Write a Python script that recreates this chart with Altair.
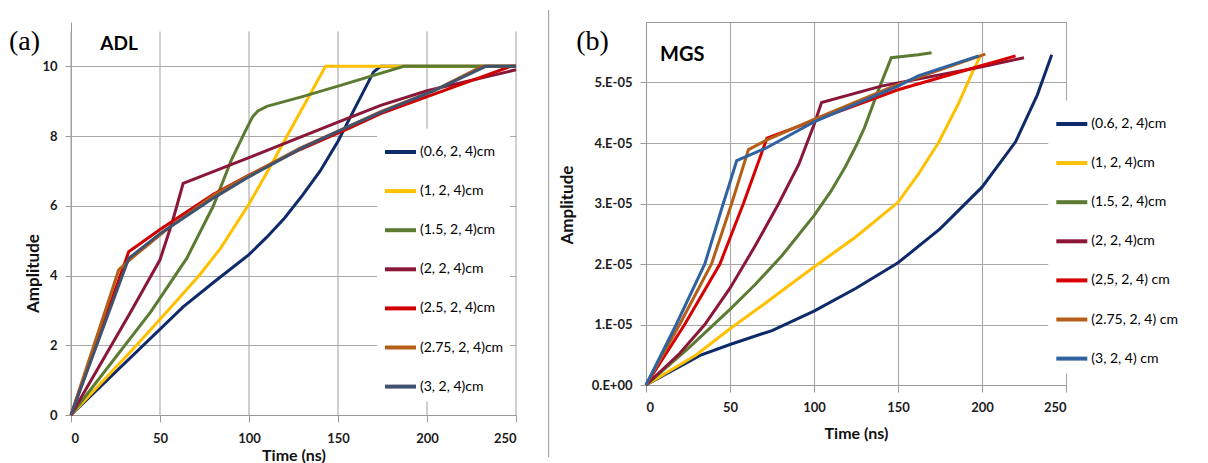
import altair as alt
import pandas as pd

# ---------------- shared axis ticks ----------------
X_TICKS = [0, 50, 100, 150, 200, 250]

# ---------------- (a) ADL ----------------
ADL_LABELS = ["(0.6, 2, 4)cm", "(1, 2, 4)cm", "(1.5, 2, 4)cm", "(2, 2, 4)cm",
              "(2.5, 2, 4)cm", "(2.75, 2, 4)cm", "(3, 2, 4)cm"]
ADL_COLORS = ["#0E2A6A", "#FFC000", "#5C7B32", "#8A1738", "#D00000", "#B55E18", "#3F5270"]
ADL_Y_TICKS = [0, 2, 4, 6, 8, 10]
ADL_GRID_TOP = 11

adl_t_06 = [0, 63, 80, 100, 110, 120, 130, 140, 150, 160, 170, 174, 250]
adl_a_06 = [0, 3.1, 3.8, 4.6, 5.1, 5.65, 6.3, 7.0, 7.85, 8.85, 9.84, 10, 10]
adl_t_1 = [0, 35, 54, 72, 84, 100, 110, 143, 250]
adl_a_1 = [0, 1.9, 2.97, 4.0, 4.78, 6.05, 6.95, 10, 10]
adl_t_15 = [0, 45, 65, 80, 90, 98, 102, 105, 110, 130, 150, 187, 250]
adl_a_15 = [0, 2.97, 4.49, 6.0, 7.3, 8.15, 8.55, 8.72, 8.85, 9.13, 9.43, 10, 10]
adl_t_2 = [0, 34, 50, 57, 63, 100, 150, 174, 200, 250]
adl_a_2 = [0, 3.0, 4.45, 5.55, 6.64, 7.38, 8.4, 8.88, 9.3, 9.9]
adl_t_25 = [0, 32.4, 50, 80, 100, 129, 157, 174, 204, 230, 247, 250]
adl_a_25 = [0, 4.68, 5.32, 6.33, 6.88, 7.62, 8.24, 8.64, 9.2, 9.68, 10, 10]
adl_t_275 = [0, 26.8, 33, 54, 80, 100, 129, 157, 174, 204, 231, 250]
adl_a_275 = [0, 4.16, 4.45, 5.33, 6.3, 6.87, 7.66, 8.3, 8.7, 9.3, 10, 10]
adl_t_3 = [0, 32.4, 50, 80, 100, 129, 157, 174, 204, 233, 250]
adl_a_3 = [0, 4.49, 5.2, 6.22, 6.83, 7.64, 8.3, 8.68, 9.3, 10, 10]

ADL_T = [adl_t_06, adl_t_1, adl_t_15, adl_t_2, adl_t_25, adl_t_275, adl_t_3]
ADL_A = [adl_a_06, adl_a_1, adl_a_15, adl_a_2, adl_a_25, adl_a_275, adl_a_3]

# ---------------- (b) MGS ----------------
MGS_LABELS = ["(0.6, 2, 4)cm", "(1, 2, 4)cm", "(1.5, 2, 4)cm", "(2, 2, 4)cm",
              "(2,5, 2, 4) cm", "(2.75, 2, 4) cm", "(3, 2, 4) cm"]
MGS_COLORS = ["#0E2A6A", "#FFC000", "#5C7B32", "#8A1738", "#D80000", "#B55E18", "#2F62A0"]
MGS_UNIT = 1e-5
MGS_Y_TICKS = [0, 1e-5, 2e-5, 3e-5, 4e-5, 5e-5]

mgs_t_06 = [0, 33, 50, 75, 100, 125, 150, 175, 200, 220, 233, 241.5]
mgs_a_06 = [0, 0.5, 0.67, 0.9, 1.22, 1.6, 2.02, 2.58, 3.27, 4.02, 4.8, 5.46]
mgs_t_1 = [0, 30, 50, 70, 88.7, 100, 125, 150, 162, 174, 186, 194, 199]
mgs_a_1 = [0, 0.5, 0.93, 1.33, 1.72, 1.95, 2.45, 3.02, 3.48, 4.0, 4.65, 5.15, 5.44]
mgs_t_15 = [0, 25, 50, 65, 81, 100, 110, 118.5, 125, 130, 138, 146, 162, 170]
mgs_a_15 = [0, 0.6, 1.25, 1.66, 2.14, 2.8, 3.2, 3.6, 3.95, 4.25, 4.85, 5.41, 5.46, 5.49]
mgs_t_2 = [0, 20, 35, 50, 65, 79, 91, 100, 104.5, 140, 200, 225]
mgs_a_2 = [0, 0.52, 1.0, 1.6, 2.3, 3.0, 3.65, 4.3, 4.67, 4.94, 5.26, 5.41]
mgs_t_25 = [0, 23, 44, 58, 72, 100, 150, 200, 220]
mgs_a_25 = [0, 1.0, 2.0, 3.0, 4.08, 4.37, 4.88, 5.28, 5.44]
mgs_t_275 = [0, 20, 39, 51, 61, 72, 100, 150, 202]
mgs_a_275 = [0, 1.0, 2.0, 3.0, 3.89, 4.05, 4.39, 4.97, 5.47]
mgs_t_3 = [0, 18, 35, 46, 50, 54, 71, 100, 150, 162, 198]
mgs_a_3 = [0, 1.0, 2.0, 3.0, 3.35, 3.71, 3.91, 4.35, 4.94, 5.11, 5.44]

MGS_T = [mgs_t_06, mgs_t_1, mgs_t_15, mgs_t_2, mgs_t_25, mgs_t_275, mgs_t_3]
MGS_A = [mgs_a_06, mgs_a_1, mgs_a_15, mgs_a_2, mgs_a_25, mgs_a_275, mgs_a_3]

# ---------------- annotation text ----------------
ADL_TAG, ADL_NAME = "(a)", "ADL"
MGS_TAG, MGS_NAME = "(b)", "MGS"
X_TITLE = "Time (ns)"
Y_TITLE = "Amplitude"


def build_table(labels, ts, amps, unit=1.0):
    rows = []
    for lab, tt, aa in zip(labels, ts, amps):
        for i, (t, a) in enumerate(zip(tt, aa)):
            rows.append({"series": lab, "t": t, "amp": a * unit, "ord": i})
    return pd.DataFrame(rows)


adl_df = build_table(ADL_LABELS, ADL_T, ADL_A)
mgs_df = build_table(MGS_LABELS, MGS_T, MGS_A, MGS_UNIT)
grid_df = pd.DataFrame({"t": X_TICKS, "amp": [0] * len(X_TICKS), "hi": [ADL_GRID_TOP] * len(X_TICKS)})
one = pd.DataFrame({"k": [0]})

LEG_COMMON = dict(
    orient="none", fillColor="white", padding=6, symbolType="stroke",
    symbolSize=961, symbolStrokeWidth=4, rowPadding=13.1, labelOffset=2,
    labelFont="Lato", labelFontSize=14, labelColor="#000000",
)
GRID_COLOR = "#a8a8a8"

# ---------------- left panel (plot top at page y=20) ----------------
ADL_X_SCALE = alt.Scale(domain=[0, 250], nice=False)
ADL_Y_SCALE = alt.Scale(domain=[0, 11.27], nice=False)
ADL_X_AXIS = alt.Axis(values=X_TICKS, grid=False, title=X_TITLE, titleY=32, titleBaseline="top",
                      labelPadding=10, tickSize=7)
ADL_Y_AXIS = alt.Axis(values=ADL_Y_TICKS, format="d", title=Y_TITLE, titleX=-29, titleY=251,
                      labelPadding=8, tickSize=6)

left_vgrid = alt.Chart(grid_df).mark_rule(color=GRID_COLOR, strokeWidth=1.1).encode(
    x=alt.X("t:Q", scale=ADL_X_SCALE, axis=ADL_X_AXIS),
    y=alt.Y("amp:Q", scale=ADL_Y_SCALE, axis=ADL_Y_AXIS),
    y2="hi:Q",
)
left_lines = alt.Chart(adl_df).mark_line(strokeWidth=3).encode(
    x=alt.X("t:Q", scale=ADL_X_SCALE, axis=ADL_X_AXIS),
    y=alt.Y("amp:Q", scale=ADL_Y_SCALE, axis=ADL_Y_AXIS),
    color=alt.Color("series:N", title=None,
                    scale=alt.Scale(domain=ADL_LABELS, range=ADL_COLORS),
                    legend=alt.Legend(legendX=306, legendY=106.5, **LEG_COMMON)),
    order=alt.Order("ord:Q"),
)
left_tag = alt.Chart(one).mark_text(font="Liberation Serif", fontSize=28, align="left",
                                    baseline="middle", color="#000").encode(
    x=alt.value(-62), y=alt.value(20), text=alt.value(ADL_TAG))
left_name = alt.Chart(one).mark_text(font="Lato", fontSize=19, fontWeight="bold", align="left",
                                     baseline="middle", color="#000").encode(
    x=alt.value(29.3), y=alt.value(22), text=alt.value(ADL_NAME))
separator = alt.Chart(one).mark_rule(color="#a8a8a8", strokeWidth=1.2).encode(
    x=alt.value(477.6), y=alt.value(-12), y2=alt.value(435))

left = alt.layer(left_vgrid, left_lines, left_tag, left_name, separator).properties(
    width=445, height=393, view=alt.ViewBackground(stroke="transparent"))

# ---------------- right panel (plot top at page y=20) ----------------
right_lines = alt.Chart(mgs_df).mark_line(strokeWidth=3).encode(
    x=alt.X("t:Q", scale=alt.Scale(domain=[0, 250], nice=False),
            axis=alt.Axis(values=X_TICKS, title=X_TITLE, titleY=40, titleBaseline="top",
                          labelPadding=9, tickSize=7)),
    y=alt.Y("amp:Q", scale=alt.Scale(domain=[0, 6e-5], nice=False),
            axis=alt.Axis(values=MGS_Y_TICKS, title=Y_TITLE, titleX=-69.4, titleY=182.5,
                          labelExpr="datum.value == 0 ? '0.E+00' : round(datum.value * 1e5) + '.E-05'",
                          labelPadding=8, tickSize=6)),
    color=alt.Color("series:N", title=None,
                    scale=alt.Scale(domain=MGS_LABELS, range=MGS_COLORS),
                    legend=alt.Legend(legendX=402.3, legendY=78.5, **LEG_COMMON)),
    order=alt.Order("ord:Q"),
)
right_tag = alt.Chart(one).mark_text(font="Liberation Serif", fontSize=28, align="left",
                                     baseline="middle", color="#000").encode(
    x=alt.value(-69.7), y=alt.value(20), text=alt.value(MGS_TAG))
right_name = alt.Chart(one).mark_text(font="Lato", fontSize=20, fontWeight="bold", align="left",
                                      baseline="middle", color="#000").encode(
    x=alt.value(14), y=alt.value(33), text=alt.value(MGS_NAME))
spacer = alt.Chart(one).mark_rule(color="white", strokeWidth=1).encode(
    x=alt.value(-88), y=alt.value(-12), y2=alt.value(0))

right = alt.layer(right_lines, right_tag, right_name, spacer).properties(
    width=420, height=363, view=alt.ViewBackground(stroke="#9a9a9a"))

chart = alt.hconcat(left, right, spacing=7).resolve_scale(
    color="independent").resolve_legend(color="independent").properties(padding=0).configure_axis(
    labelFont="Lato", labelFontSize=13, labelFontWeight="bold", labelColor="#1c1c1c",
    titleFont="Lato", titleFontSize=16, titleFontWeight="bold", titleColor="#111111",
    gridColor=GRID_COLOR, gridWidth=1.1, domainColor="#9a9a9a", tickColor="#9a9a9a",
).configure_axisY(titleFontSize=17).configure_view(stroke="transparent")

chart.save("out.html", embed_options={"renderer": "svg", "actions": False})
